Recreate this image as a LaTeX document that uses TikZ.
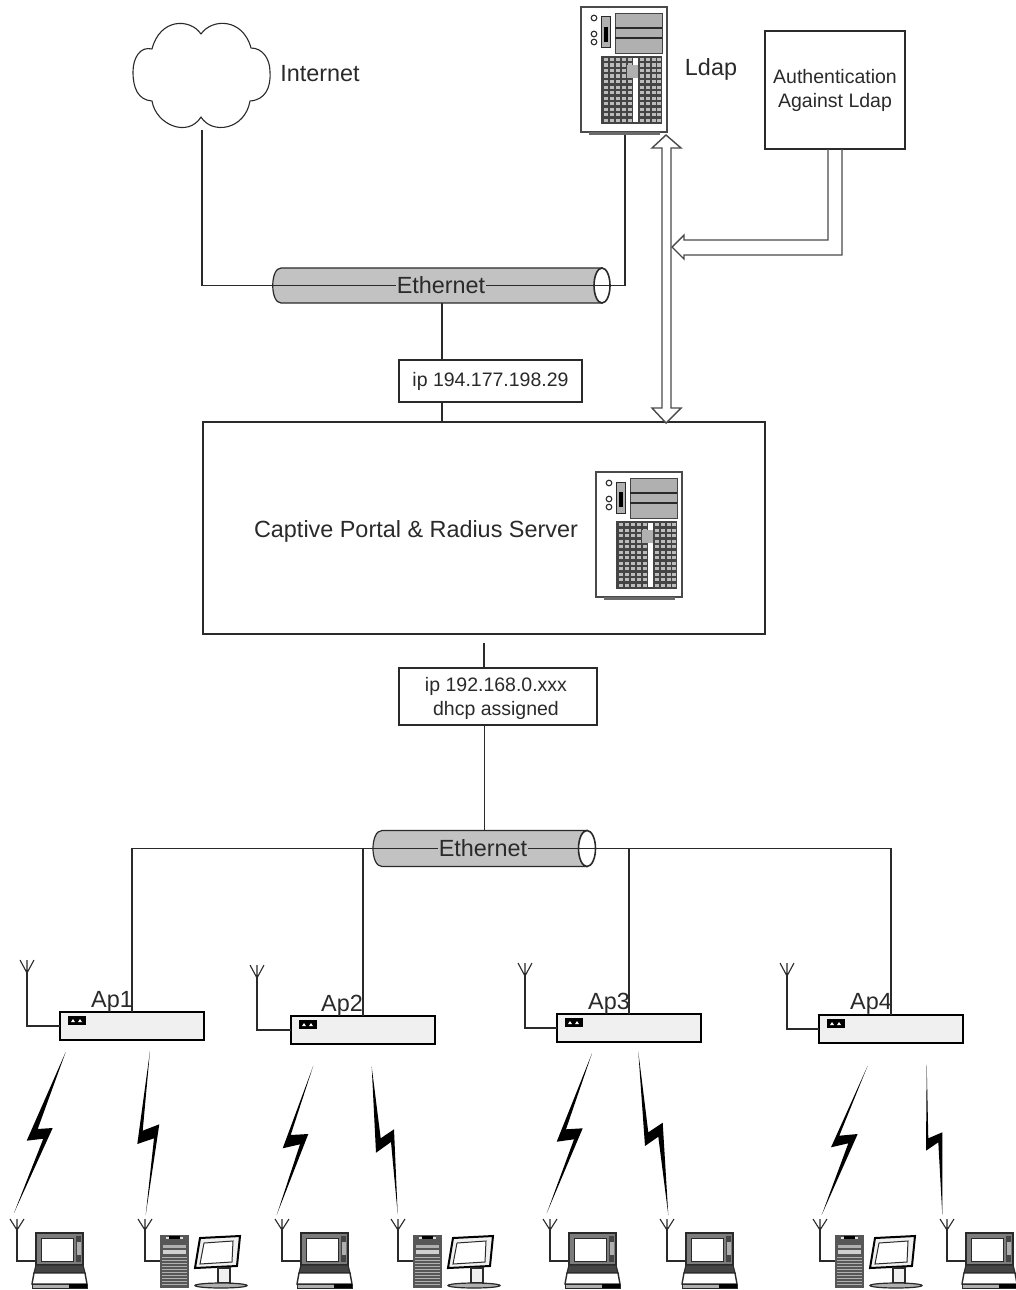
\documentclass[tikz,border=0pt]{standalone}
\usepackage{fontspec}
\setmainfont{Liberation Sans}
\definecolor{ink}{HTML}{2A2A2A}
\definecolor{cylgray}{HTML}{C2C2C2}
\definecolor{apfill}{HTML}{F0F0F0}
\definecolor{baygray}{HTML}{B0B0B0}
\definecolor{griddark}{HTML}{444444}
\tikzset{
  wire/.style={draw=ink,line width=1.3pt,line join=miter},
  boxnode/.style={draw=ink,line width=1.3pt,fill=white,inner sep=0pt,align=center},
  ghost/.style={inner sep=0pt,outer sep=0pt},
  bigtext/.style={text=ink,font=\fontsize{23.4}{27}\selectfont},
  smalltext/.style={font=\fontsize{19.5}{24}\selectfont,text=ink},
  ethlabel/.style={bigtext,fill=cylgray,inner sep=1pt},
  apbox/.style={draw=black,line width=2.2pt,fill=apfill,inner sep=0pt,outer sep=0pt,minimum width=144pt,minimum height=28pt},
  blockarrow/.style={draw=ink!85,line width=1.4pt,fill=white,line join=miter},
  boltshape/.style={fill=black},
  pics/servericon/.style={code={
    \draw[ink!85,line width=1.1pt,fill=white] (0,0) rectangle (86,125);
    \fill[ink!70] (8,125) rectangle (79,128);
    \foreach \cy in {11,27,35}{\draw[ink,line width=1.1pt,fill=white] (13,\cy) circle (2.8pt);}
    \draw[ink,line width=1pt,fill=baygray] (20,10) rectangle (29,41);
    \fill[black] (23,20) rectangle (27,35);
    \draw[griddark,line width=.7pt,fill=baygray] (34,6) rectangle (81,46);
    \draw[ink,line width=1.1pt] (34,21) -- (81,21) (34,31) -- (81,31);
    \fill[griddark] (20,49) rectangle (81,117);
    \foreach \ry in {51,56.5,62,67.5,73,78.5,84,89.5,95,100.5,106,111.5}{
      \foreach \cx in {23,29,35,41,47,59,65,71,76}{
        \fill[baygray!85] (\cx,\ry) rectangle ++(3.6,3.2);
      }
    }
    \fill[white] (52,51) rectangle (57,115);
    \fill[baygray] (46,58) rectangle (57,71);
  }},
  pics/antennaicon/.style={code={
    \draw[ink,line width=1.1pt] (-7,0) -- (0,13) -- (7,0) (0,0) -- (0,13);
  }},
  pics/apicon/.style={code={
    \fill[black] (0,0) rectangle (18,9);
    \fill[white] (3,6) -- (5,3) -- (7,6) -- cycle (10,6) -- (12,3) -- (14,6) -- cycle;
  }},
  pics/laptopicon/.style={code={
    \draw[ink,line width=1.1pt] (-7,0) -- (0,11) -- (7,0) (0,0) -- (0,11);
    \coordinate (-ant) at (0,11);
    \coordinate (-port) at (19,42);
    \draw[ink,line width=1.6pt,fill=griddark!70] (19,14) rectangle (66,46);
    \draw[ink,line width=1pt,fill=white] (24,19) rectangle (56,42);
    \fill[griddark] (59,17) rectangle (64,43);
    \fill[baygray] (59.5,23) rectangle (63.5,36);
    \draw[ink,line width=1.2pt,fill=griddark] (19,46) -- (66,46) -- (68,54) -- (17,54) -- cycle;
    \draw[ink,line width=1.4pt,fill=white] (17,54) -- (68,54) -- (70,65) -- (15,65) -- cycle;
    \draw[ink,line width=1pt,fill=baygray] (15,65) rectangle (70,69);
    \fill[black] (52,65) rectangle (70,69);
  }},
  pics/desktopicon/.style={code={
    \draw[ink,line width=1.1pt] (-7,0) -- (0,11) -- (7,0) (0,0) -- (0,11);
    \coordinate (-ant) at (0,11);
    \coordinate (-port) at (15,42);
    \fill[griddark!90] (15,16) rectangle (44,69);
    \foreach \sy in {38,41,...,66}{\fill[baygray] (17,\sy) rectangle (42,\sy+.8);}
    \fill[baygray] (18,26) rectangle (41,29);
    \fill[baygray!60] (18,31) rectangle (41,35);
    \fill[baygray!40] (21,18) rectangle (38,20);
    \fill[black] (24,17) rectangle (35,20);
    \draw[black,line width=2pt,fill=apfill] (55,19) -- (95,17) -- (92,47) -- (50,49) -- cycle;
    \draw[ink,line width=1pt,fill=white] (59,24) -- (88,22) -- (87,43) -- (55,45) -- cycle;
    \draw[ink,line width=1.2pt,fill=apfill] (73,49) rectangle (85,64);
    \draw[ink,line width=1.2pt,fill=baygray] (76,66.5) ellipse [x radius=26pt,y radius=2.5pt];
  }},
}
\begin{document}
\begin{tikzpicture}[x=1pt,y=-1pt]
\useasboundingbox (0,0) rectangle (1016,1290);
\fill[white] (0,0) rectangle (1016,1290);

% anchors for drawn objects
\node[ghost,minimum width=138pt,minimum height=108pt] (cloud) at (202,76) {};
\node[ghost,minimum width=86pt,minimum height=128pt] (ldapsrv) at (625,71) {};
\node[ghost,minimum width=338pt,minimum height=35pt] (eth1) at (442,285.5) {};
\node[ghost,minimum width=223pt,minimum height=36pt] (eth2) at (484.5,848.5) {};

% cloud
\draw[ink,line width=1.1pt,fill=white,line join=round]
  (201,34) .. controls (190,18) and (160,18) .. (152,49)
  .. controls (140,46) and (133,58) .. (133,72)
  .. controls (133,88) and (138,100) .. (152,101)
  .. controls (156,125) and (188,138) .. (201,117)
  .. controls (212,135) and (245,130) .. (250,101)
  .. controls (265,100) and (271,88) .. (270,72)
  .. controls (270,58) and (262,48) .. (251,48)
  .. controls (243,18) and (212,18) .. (201,34) -- cycle;
\node[bigtext] (internetlabel) at (320,74) {Internet};

% servers
\pic at (581,7) {servericon};
\node[bigtext] (ldaplabel) at (711,69) {Ldap};

% upper ethernet
\draw[ink,line width=1.2pt,fill=cylgray]
  (281,268) -- (602,268) -- (602,303) -- (281,303)
  .. controls (270,303) and (270,268) .. (281,268) -- cycle;
\draw[ink,line width=1.6pt,fill=white] (602,285.5) ellipse [x radius=8pt,y radius=17.5pt];
\draw[wire] (cloud.south) |- (ldapsrv.south |- eth1.center) -- (ldapsrv.south);
\node[ethlabel] (eth1label) at (441,285) {Ethernet};

% boxes
\node[boxnode,smalltext,minimum width=140pt,minimum height=118pt] (auth) at (835,90) {Authentication\\Against Ldap};
\node[boxnode,smalltext,minimum width=183pt,minimum height=42pt] (ip1) at (490.5,381) {ip 194.177.198.29};
\node[boxnode,minimum width=562pt,minimum height=212pt] (portal) at (484,528) {};
\node[bigtext] (portallabel) at (416,531) {Captive Portal \& Radius Server};
\pic at (596,472) {servericon};
\node[boxnode,minimum width=198pt,minimum height=57pt] (ip2) at (498,696.5) {};
\node[smalltext,align=center] (ip2label) at (496,698) {ip 192.168.0.xxx\\dhcp assigned};

\draw[wire] (eth1.south) -- (eth1.south |- ip1.north);
\draw[wire] (eth1.south |- ip1.south) -- (eth1.south |- portal.north);
\coordinate (portalgap) at (484,643);
\draw[wire] (portalgap) -- (portalgap |- ip2.north);
\draw[wire] (eth2.north |- ip2.south) -- (eth2.north);

% block arrows
\draw[blockarrow] (666,135) -- (681,148) -- (671,148) -- (671,408) -- (681,408) -- (666,423)
  -- (652,408) -- (662,408) -- (662,148) -- (652,148) -- cycle;
\coordinate (authinner) at (828,149);
\coordinate (authouter) at (842,149);
\draw[blockarrow,fill=none] (authinner) -- (828,240) -- (684,240) -- (684,235) -- (672,247)
  -- (684,259) -- (684,255) -- (842,255) -- (authouter);

% lower ethernet
\draw[ink,line width=1.2pt,fill=cylgray]
  (382,830.5) -- (587,830.5) -- (587,866.5) -- (382,866.5)
  .. controls (370,866.5) and (370,830.5) .. (382,830.5) -- cycle;
\draw[ink,line width=1.6pt,fill=white] (587,848.5) ellipse [x radius=8.5pt,y radius=18pt];

% access points
\node[apbox] (ap1) at (132,1026) {};
\node[apbox] (ap2) at (363,1030) {};
\node[apbox] (ap3) at (629,1028) {};
\node[apbox] (ap4) at (891,1029) {};
\draw[wire] (ap1.north) |- (ap4.north |- eth2.center) -- (ap4.north);
\draw[wire] (ap2.north) -- (ap2.north |- eth2.center);
\draw[wire] (ap3.north) -- (ap3.north |- eth2.center);
\node[ethlabel] (eth2label) at (483,848) {Ethernet};

\pic at (68,1016) {apicon};
\pic at (299,1020) {apicon};
\pic at (565,1018) {apicon};
\pic at (827,1019) {apicon};
\node[bigtext] (ap1label) at (112,1002) {Ap1};
\node[bigtext] (ap2label) at (342,1006) {Ap2};
\node[bigtext] (ap3label) at (609,1004) {Ap3};
\node[bigtext] (ap4label) at (871,1004) {Ap4};

% AP antennas
\pic at (27,960) {antennaicon};
\pic at (257,965) {antennaicon};
\pic at (525,963) {antennaicon};
\pic at (787,963) {antennaicon};
\coordinate (apant1) at (27,973);
\coordinate (apant2) at (257,978);
\coordinate (apant3) at (525,976);
\coordinate (apant4) at (787,976);
\draw[wire] (apant1) |- (ap1.west);
\draw[wire] (apant2) |- (ap2.west);
\draw[wire] (apant3) |- (ap3.west);
\draw[wire] (apant4) |- (ap4.west);

% lightning bolts
\fill[boltshape] (65.7,1052) -- (26.7,1140.7) -- (43.3,1138.7) -- (14,1213) -- (52.7,1128) -- (37.7,1129) -- cycle;
\fill[boltshape] (150,1051) -- (137.3,1144) -- (154,1138.3) -- (145.7,1215) -- (159.3,1124.3) -- (142.7,1130.7) -- cycle;
\fill[boltshape] (313.3,1065.7) -- (282.7,1148.3) -- (300,1144.3) -- (276.7,1215) -- (308.3,1134) -- (290.7,1135) -- cycle;
\fill[boltshape] (371.7,1066.7) -- (376,1152.7) -- (391,1142) -- (397.7,1214.3) -- (394,1129.3) -- (380.7,1138.3) -- cycle;
\fill[boltshape] (592,1053.3) -- (556.7,1141.7) -- (574,1139.3) -- (546.7,1213.3) -- (582.7,1128.3) -- (566,1129.3) -- cycle;
\fill[boltshape] (638.3,1051.7) -- (645,1146) -- (658.3,1136.7) -- (668.3,1215) -- (662.7,1122.7) -- (648.3,1132.3) -- cycle;
\fill[boltshape] (867.7,1065.7) -- (831,1147.3) -- (848.3,1143.3) -- (821.7,1215) -- (857.7,1134) -- (839.3,1135.7) -- cycle;
\fill[boltshape] (926.7,1064.3) -- (926,1150.7) -- (938.3,1142.3) -- (942.3,1215) -- (942.3,1132.3) -- (928.3,1138.3) -- cycle;

% clients
\pic (c1) at (17,1219) {laptopicon};
\pic (c2) at (145,1219) {desktopicon};
\pic (c3) at (282,1219) {laptopicon};
\pic (c4) at (398,1219) {desktopicon};
\pic (c5) at (550,1219) {laptopicon};
\pic (c6) at (667,1219) {laptopicon};
\pic (c7) at (820,1219) {desktopicon};
\pic (c8) at (947,1219) {laptopicon};
\foreach \c in {c1,c2,c3,c4,c5,c6,c7,c8}{
  \draw[wire] (\c-ant) |- (\c-port);
}
\end{tikzpicture}
\end{document}
